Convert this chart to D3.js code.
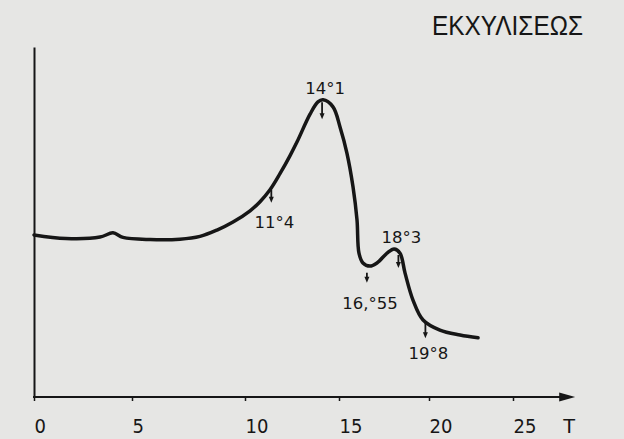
<!DOCTYPE html>
<html>
<head>
<meta charset="utf-8">
<script src="https://d3js.org/d3.v7.min.js"></script>
<style>
  body { margin: 0; background: #e6e6e4; }
  svg { display: block; }
  .tick text { font-family: "Liberation Sans Narrow", "DejaVu Sans Condensed", sans-serif; font-size: 20px; fill: #161616; }
  .mark text { font-family: "DejaVu Sans", sans-serif; font-size: 16.5px; fill: #161616; }
</style>
</head>
<body>
<svg width="624" height="439"></svg>
<script>
// T values along the curve and the extraction level (0-100, no scale printed)
const tValues = [0, 1.63, 3.37, 4.03, 4.54, 5.80, 7.12, 8.01, 8.76, 9.47, 10.27, 10.80, 11.33, 11.86,
  12.39, 12.77, 13.46, 13.88, 14.15, 14.68, 15.06, 15.44, 15.78, 16.0, 16.11, 16.33, 16.72, 17.11,
  17.67, 18.06, 18.39, 18.67, 19.11, 19.67, 20.65, 21.85, 22.92];
const extraction = [46.3, 45.3, 45.7, 46.9, 45.6, 45.0, 45.1, 45.9, 47.7, 50.0, 53.2, 55.8, 59.2, 63.8,
  68.9, 72.9, 80.8, 84.3, 84.9, 82.9, 77.1, 69.7, 60.0, 50.6, 41.1, 38.3, 37.4, 38.3,
  41.1, 42.3, 41.1, 35.4, 27.7, 22.0, 19.1, 17.7, 16.9];

const tickValues = [0, 5, 10, 15, 20, 25];
const markT = [11.4, 14.1, 16.55, 18.3, 19.8];
const markLabels = ["11°4", "14°1", "16,°55", "18°3", "19°8"];
const yTitle = "ΕΚΧΥΛΙΣΕΩΣ";
const xTitle = "T";

// how each marker sits relative to the curve (pixels)
const markLayout = [
  { from: 2, to: 15, offset: 40 },
  { from: 2, to: 19, offset: -6 },
  { from: 8, to: 18, offset: 41 },
  { from: 3, to: 16, offset: -9 },
  { from: 1, to: 17, offset: 36 }
];

const ink = "#161616";
const svg = d3.select("svg");

// hand drawn axis: tick spacing is not even, so the scale is piecewise
const x = d3.scaleLinear()
  .domain(tickValues)
  .range([34, 132, 245, 339, 429, 513]);
const axisEnd = 28.7;

const y = d3.scaleLinear()
  .domain([0, 100])
  .range([397, 47]);

// y axis, no ticks
svg.append("g")
  .attr("transform", `translate(${x(0)},0)`)
  .call(d3.axisLeft(y).tickValues([]).tickSizeOuter(0))
  .call(g => g.select(".domain").attr("stroke", ink).attr("stroke-width", 2));

// x axis
const xg = svg.append("g")
  .attr("transform", `translate(0,${y(0)})`)
  .style("color", ink)
  .call(d3.axisBottom(x).tickValues(tickValues).tickFormat(d3.format("d")).tickSize(4).tickSizeOuter(0));
xg.select(".domain").remove();
xg.selectAll(".tick line").attr("stroke-width", 1.5);
xg.selectAll(".tick text")
  .attr("text-anchor", "start")
  .attr("x", 0)
  .attr("y", 36)
  .attr("dy", 0);

const tipX = x(axisEnd);
xg.append("line")
  .attr("x1", x(0) - 1).attr("x2", tipX - 8)
  .attr("y1", 0).attr("y2", 0)
  .attr("stroke", ink).attr("stroke-width", 2);
xg.append("path")
  .attr("d", `M${tipX},0 L${tipX - 16},-4.5 L${tipX - 16},4.5 Z`)
  .attr("fill", ink);

xg.append("text")
  .attr("x", tipX - 6)
  .attr("y", 36)
  .attr("text-anchor", "middle")
  .attr("fill", ink)
  .style("font-family", "'Liberation Sans Narrow', sans-serif")
  .style("font-size", "21px")
  .text(xTitle);

// title of the vertical quantity
svg.append("text")
  .attr("x", 432)
  .attr("y", 35)
  .attr("textLength", 151)
  .attr("lengthAdjust", "spacingAndGlyphs")
  .attr("fill", ink)
  .style("font-family", "'Liberation Sans Narrow', sans-serif")
  .style("font-size", "27px")
  .text(yTitle);

// the curve
const points = tValues.map((t, i) => [t, extraction[i]]);
const line = d3.line()
  .x(d => x(d[0]))
  .y(d => y(d[1]))
  .curve(d3.curveCatmullRom.alpha(0.5));

svg.append("path")
  .datum(points)
  .attr("d", line)
  .attr("fill", "none")
  .attr("stroke", ink)
  .attr("stroke-width", 3.5)
  .attr("stroke-linejoin", "round")
  .attr("stroke-linecap", "round");

function valueAt(t) {
  const i = d3.bisectLeft(tValues, t);
  const t0 = tValues[i - 1], t1 = tValues[i];
  const k = (t - t0) / (t1 - t0);
  return extraction[i - 1] + k * (extraction[i] - extraction[i - 1]);
}

// arrows and labels at the marked times
const marks = svg.selectAll(".mark")
  .data(markT.map((t, i) => ({ t, label: markLabels[i], ...markLayout[i] })))
  .join("g")
  .attr("class", "mark")
  .attr("transform", d => `translate(${x(d.t)},${y(valueAt(d.t))})`);

marks.append("line")
  .attr("y1", d => d.from)
  .attr("y2", d => d.to - 4)
  .attr("stroke", ink)
  .attr("stroke-width", 1.8);

marks.append("path")
  .attr("d", d => `M0,${d.to} L-2.5,${d.to - 6} L2.5,${d.to - 6} Z`)
  .attr("fill", ink);

marks.append("text")
  .attr("x", 3)
  .attr("y", d => d.offset > 0 ? d.to + d.offset - 15 : d.offset)
  .attr("text-anchor", "middle")
  .text(d => d.label);
</script>
</body>
</html>
